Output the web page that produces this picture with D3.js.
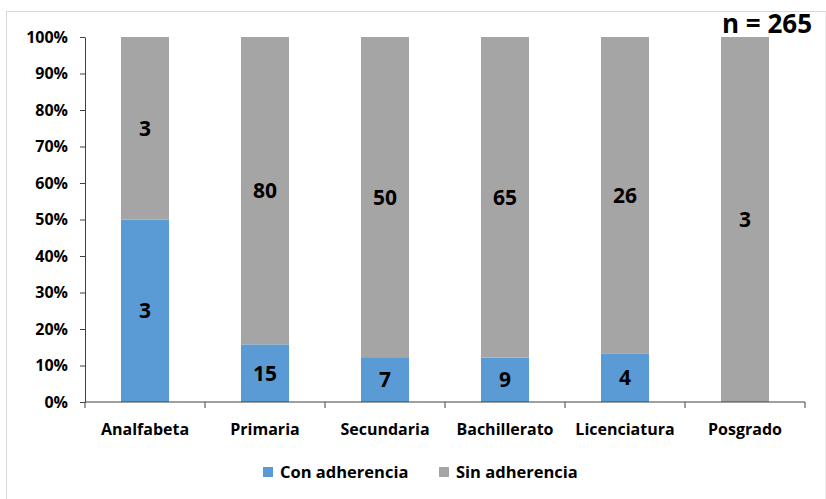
<!DOCTYPE html>
<html>
<head>
<meta charset="utf-8">
<script src="https://cdn.jsdelivr.net/npm/d3@7"></script>
<style>
  html, body { margin: 0; padding: 0; background: #fff; }
  svg { display: block; font-family: "Open Sans", "Liberation Sans", sans-serif; }
</style>
</head>
<body>
<svg id="chart" width="826" height="499"></svg>
<script>
// Nivel educativo y adherencia (conteos)
const categories = ["Analfabeta", "Primaria", "Secundaria", "Bachillerato", "Licenciatura", "Posgrado"];
const conAdherencia = [3, 15, 7, 9, 4, 0];
const sinAdherencia = [3, 80, 50, 65, 26, 3];
const seriesNames = ["Con adherencia", "Sin adherencia"];
const seriesColors = ["#5B9BD5", "#A5A5A5"];
const yTicks = [0, 0.1, 0.2, 0.3, 0.4, 0.5, 0.6, 0.7, 0.8, 0.9, 1.0];
const totalN = 265;

const svg = d3.select("#chart");
const W = 826, H = 499;
const margin = { left: 85, right: 21, top: 37, bottom: 97 };

// outer frame
svg.append("rect")
  .attr("x", 6.5).attr("y", 11.5)
  .attr("width", W - 6.5).attr("height", H)
  .attr("fill", "none").attr("stroke", "#d9d9d9").attr("stroke-width", 1);

const x = d3.scaleBand()
  .domain(categories)
  .range([margin.left, W - margin.right])
  .paddingInner(0.6).paddingOuter(0.3);

const xOuter = d3.scaleBand()
  .domain(categories)
  .range([margin.left, W - margin.right]);

const y = d3.scaleLinear().domain([0, 1]).range([H - margin.bottom, margin.top]);

const rows = categories.map((c, i) => {
  const total = conAdherencia[i] + sinAdherencia[i];
  return { cat: c, con: conAdherencia[i], sin: sinAdherencia[i], total };
});

const stack = d3.stack()
  .keys(["con", "sin"])
  .value((d, k) => d.total ? d[k] / d.total : 0);
const layers = stack(rows);

const g = svg.append("g");
layers.forEach((layer, li) => {
  g.selectAll(null)
    .data(layer)
    .join("rect")
    .attr("x", d => x(d.data.cat))
    .attr("width", x.bandwidth())
    .attr("y", d => y(d[1]))
    .attr("height", d => Math.max(0, y(d[0]) - y(d[1])))
    .attr("fill", seriesColors[li]);
});

// data labels
layers.forEach((layer, li) => {
  const key = li === 0 ? "con" : "sin";
  g.selectAll(null)
    .data(layer.filter(d => d.data[key] > 0))
    .join("text")
    .attr("x", d => x(d.data.cat) + x.bandwidth() / 2)
    .attr("y", d => (y(d[0]) + y(d[1])) / 2)
    .attr("dy", "0.36em")
    .attr("text-anchor", "middle")
    .attr("font-size", 21)
    .attr("font-weight", "bold")
    .attr("fill", "#000")
    .text(d => d.data[key]);
});

// y axis
const yAxis = d3.axisLeft(y).tickValues(yTicks).tickFormat(d3.format(".0%")).tickSize(5).tickSizeOuter(0);
const ya = svg.append("g").attr("transform", `translate(${margin.left},0)`).call(yAxis);
ya.select(".domain").attr("stroke", "#404040");
ya.selectAll(".tick line").attr("stroke", "#404040");
ya.selectAll(".tick text")
  .attr("x", -17)
  .attr("font-size", 16).attr("font-weight", "bold").attr("fill", "#000")
  .attr("font-family", "'Open Sans', sans-serif");

// x axis with boundary ticks
const xa = svg.append("g").attr("transform", `translate(0,${H - margin.bottom})`);
xa.append("line")
  .attr("x1", margin.left).attr("x2", W - margin.right)
  .attr("stroke", "#404040");
const bounds = categories.map(c => xOuter(c)).concat([W - margin.right]);
xa.selectAll(null).data(bounds).join("line")
  .attr("x1", d => d).attr("x2", d => d)
  .attr("y1", 0).attr("y2", 6)
  .attr("stroke", "#404040");
xa.selectAll(null).data(categories).join("text")
  .attr("x", d => xOuter(d) + xOuter.bandwidth() / 2)
  .attr("y", 33)
  .attr("text-anchor", "middle")
  .attr("font-size", 16).attr("font-weight", "bold").attr("fill", "#000")
  .text(d => d);

// sample size
svg.append("text")
  .attr("x", 812).attr("y", 33)
  .attr("text-anchor", "end")
  .attr("font-size", 26).attr("font-weight", "bold").attr("fill", "#000")
  .text(`n = ${totalN}`);

// legend
const legend = svg.append("g");
const legendItems = [
  { name: seriesNames[0], color: seriesColors[0], x: 263 },
  { name: seriesNames[1], color: seriesColors[1], x: 439 }
];
legendItems.forEach(it => {
  legend.append("rect")
    .attr("x", it.x).attr("y", 467).attr("width", 10).attr("height", 10)
    .attr("fill", it.color);
  legend.append("text")
    .attr("x", it.x + 17).attr("y", 472).attr("dy", "0.36em")
    .attr("font-size", 16.5).attr("font-weight", "bold").attr("fill", "#000")
    .text(it.name);
});
</script>
</body>
</html>
